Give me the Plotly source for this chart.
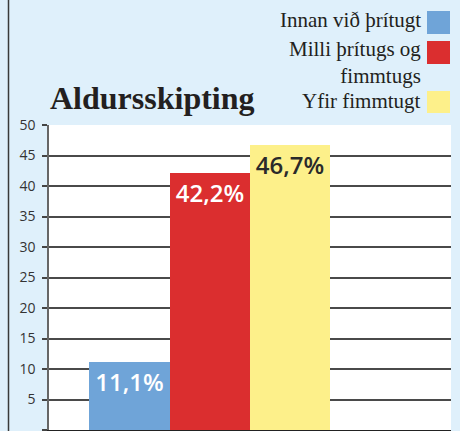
import plotly.graph_objects as go

categories = ["Innan við þrítugt", "Milli þrítugs og<br>fimmtugs", "Yfir fimmtugt"]
values = [11.1, 42.2, 46.7]
colors = ["#6fa4d8", "#db2e2f", "#fdf08a"]
label_colors = ["white", "white", "#2a2a2a"]
positions = [1, 2, 3]
y_ticks = [0, 5, 10, 15, 20, 25, 30, 35, 40, 45, 50]
title = "Aldursskipting"

W, H = 460, 431
ML, MR, MT, MB = 49, 9, 125, 1
PW = W - ML - MR
PH = H - MT - MB

def px2x(px):
    return (px - ML) / PW

def py2y(py):
    return (H - MB - py) / PH

labels = [f"{v:.1f}".replace(".", ",") + "%" for v in values]

fig = go.Figure()
fig.add_trace(go.Bar(
    x=positions, y=values, width=1,
    marker=dict(color=colors, line=dict(width=0)),
    text=labels, textposition="inside", insidetextanchor="end",
    textangle=0,
    textfont=dict(family="Open Sans", size=24, color=label_colors, weight=600),
    constraintext="none",
    showlegend=False, hoverinfo="skip",
))

fig.update_layout(
    width=W, height=H,
    margin=dict(l=ML, r=MR, t=MT, b=MB, autoexpand=False),
    paper_bgcolor="#dff0fb", plot_bgcolor="white",
    bargap=0,
    xaxis=dict(range=[0, 5], showgrid=False, zeroline=False, showticklabels=False,
               ticks="", showline=True, linecolor="#222", linewidth=2, fixedrange=True,
               automargin=False),
    yaxis=dict(range=[0, 50], tickvals=y_ticks, ticks="outside", ticklen=5,
               tickcolor="#444", tickwidth=1.5,
               showgrid=True, gridcolor="#4a4a4a", gridwidth=1.5, zeroline=False,
               showline=True, linecolor="#666", linewidth=1.5,
               tickfont=dict(family="Open Sans", size=14, color="#333"),
               ticklabelstandoff=4, automargin=False),
)

# left frame border
fig.add_shape(type="line", xref="paper", yref="paper",
              x0=px2x(8.5), x1=px2x(8.5), y0=py2y(0), y1=py2y(431),
              line=dict(color="#3a3a3a", width=1.5))

# title
fig.add_annotation(text=f"<b>{title}</b>", xref="paper", yref="paper",
                   x=px2x(48), y=py2y(118), xanchor="left", yanchor="bottom",
                   showarrow=False,
                   font=dict(family="Liberation Serif", size=32, color="#231f20"))

# legend (boxes on right of text)
legend_rows = [(11, 34), (41, 64), (91, 113)]
text_tops = [7, 36, 88]
for cat, col, (b0, b1), tt in zip(categories, colors, legend_rows, text_tops):
    fig.add_shape(type="rect", xref="paper", yref="paper",
                  x0=px2x(427), x1=px2x(450), y0=py2y(b1), y1=py2y(b0),
                  fillcolor=col, line=dict(width=0))
    fig.add_annotation(text=cat, xref="paper", yref="paper",
                       x=px2x(422), y=py2y(tt), xanchor="right", yanchor="top",
                       align="right", showarrow=False, borderpad=0,
                       font=dict(family="Liberation Serif", size=21, color="#231f20"))

fig.write_html("out.html", config={"displayModeBar": False},
               post_script="document.body.style.margin='0';")
